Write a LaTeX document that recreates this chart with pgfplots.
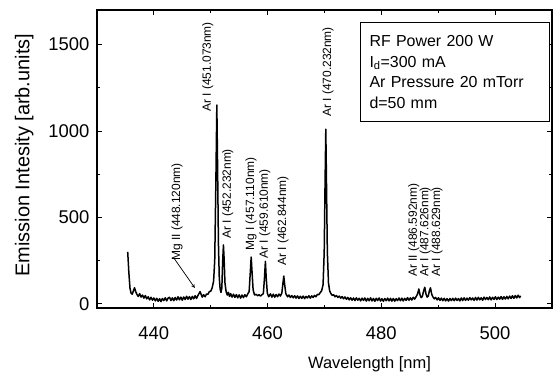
\documentclass[border=0pt]{standalone}
\usepackage{fontspec}
\setmainfont{Liberation Sans}
\usepackage{pgfplots}
\pgfplotsset{compat=1.18}
\tikzset{lab/.style={rotate=90, anchor=west, inner sep=1bp, font=\fontsize{12}{14}\selectfont}}
\begin{document}
\begin{tikzpicture}
\begin{axis}[
  scale only axis, width=455bp, height=298bp,
  xmin=430, xmax=510, ymin=-25, ymax=1700,
  xtick={440,460,480,500}, minor xtick={450,470,490},
  ytick={0,500,1000,1500}, minor ytick={250,750,1250},
  major tick length=5bp, minor tick length=3bp,
  tick style={black, line width=0.8bp},
  axis line style={line width=1.1bp},
  ticklabel style={font=\fontsize{18.5}{21}\selectfont},
  /pgf/number format/assume math mode=true,
  /pgf/number format/1000 sep={},
  xticklabel style={yshift=-15bp},
  yticklabel style={xshift=-4bp},
  xlabel={Wavelength [nm]}, ylabel={Emission Intesity [arb.units]},
  xlabel style={at={(axis description cs:0.599,-0.188)}, anchor=center, font=\fontsize{16.5}{19}\selectfont},
  ylabel style={at={(axis description cs:-0.160,0.513)}, anchor=center, font=\fontsize{20}{23}\selectfont},
]
\addplot[black, line width=1.5bp, line join=round] table {
x y
435.4 300
435.6 180
435.8 90
436.0 60
436.2 55
436.4 75
436.6 92
436.8 70
437.0 55
437.25 42
437.5 58
437.75 38
438.0 50
438.25 32
438.5 47
438.75 28
439.0 40
439.25 22
439.5 37
439.75 20
440.0 33
440.25 16
440.5 31
440.75 14
441.0 29
441.25 12
441.5 30
441.75 18
442.0 34
442.25 16
442.5 32
442.75 37
443.0 18
443.25 34
443.5 17
443.75 36
444.0 21
444.25 40
444.5 22
444.75 38
445.0 20
445.25 39
445.5 24
445.75 43
446.0 26
446.25 41
446.5 24
446.75 42
447.0 28
447.25 46
447.5 30
447.75 48
448.0 62
448.12 70
448.3 55
448.5 38
448.75 52
449.0 40
449.25 56
449.5 54
449.75 70
450.0 72
450.25 92
450.5 130
450.7 250
450.9 700
451.07 1150
451.2 800
451.35 350
451.5 150
451.65 85
451.8 65
451.95 90
452.1 250
452.23 340
452.35 260
452.5 120
452.7 70
452.9 50
453.1 66
453.3 42
453.5 58
453.75 38
454.0 55
454.25 36
454.5 53
454.75 34
455.0 51
455.25 32
455.5 50
455.75 35
456.0 52
456.25 40
456.5 56
456.75 70
456.95 180
457.11 270
457.25 190
457.45 80
457.7 50
458.0 54
458.25 46
458.5 52
458.75 44
459.0 52
459.25 58
459.45 150
459.61 245
459.75 150
459.95 60
460.2 40
460.5 57
460.75 38
461.0 55
461.25 37
461.5 53
461.75 40
462.0 56
462.25 44
462.5 62
462.7 120
462.84 160
463.0 110
463.2 58
463.5 40
463.75 50
464.0 36
464.25 47
464.5 34
464.75 46
465.0 32
465.25 45
465.5 30
465.75 43
466.0 31
466.25 44
466.5 29
466.75 42
467.0 33
467.25 46
467.5 32
467.75 45
468.0 36
468.25 48
468.5 40
468.75 54
469.0 52
469.25 64
469.5 75
469.75 110
469.95 300
470.1 700
470.23 1010
470.35 700
470.5 300
470.7 120
470.9 75
471.1 60
471.35 48
471.6 52
471.85 40
472.1 47
472.35 36
472.6 44
472.85 32
473.1 41
473.35 28
473.6 39
473.85 26
474.1 36
474.35 22
474.6 34
474.85 20
475.1 33
475.35 18
475.6 34
475.85 20
476.1 31
476.35 16
476.6 32
476.85 19
477.1 33
477.35 15
477.6 31
477.85 17
478.1 34
478.35 16
478.6 30
478.85 14
479.1 31
479.35 18
479.6 33
479.85 15
480.1 29
480.35 14
480.6 30
480.85 17
481.1 32
481.35 16
481.6 31
481.85 15
482.1 30
482.35 14
482.6 29
482.85 18
483.1 33
483.35 17
483.6 32
483.85 16
484.1 31
484.35 19
484.6 35
484.85 20
485.1 34
485.35 21
485.6 37
485.85 26
486.1 40
486.35 55
486.59 85
486.8 50
487.0 35
487.2 42
487.4 70
487.63 95
487.85 55
488.05 38
488.25 45
488.45 75
488.63 92
488.85 55
489.05 40
489.3 28
489.55 36
489.8 22
490.05 34
490.3 19
490.55 32
490.8 17
491.05 31
491.3 16
491.55 29
491.8 15
492.05 30
492.3 18
492.55 31
492.8 17
493.05 32
493.3 19
493.55 30
493.8 16
494.05 33
494.3 18
494.55 34
494.8 19
495.05 32
495.3 20
495.55 35
495.8 22
496.05 33
496.3 19
496.55 36
496.8 21
497.05 37
497.3 22
497.55 34
497.8 20
498.05 38
498.3 24
498.55 36
498.8 23
499.05 39
499.3 22
499.55 37
499.8 25
500.05 40
500.3 24
500.55 38
500.8 26
501.05 41
501.3 25
501.55 40
501.8 27
502.05 42
502.3 28
502.55 44
502.8 30
503.05 46
503.3 31
503.55 47
503.8 33
504.05 49
504.3 35
504.5 45
};
\node[lab] at (axis cs:444.07,241) {Mg II (448.120nm)};
\draw[->, >=stealth, line width=0.7bp] (axis cs:443.5,265) -- (axis cs:447.2,91);
\node[lab] at (axis cs:449.5,1104) {Ar I (451.073nm)};
\node[lab] at (axis cs:453.0,369) {Ar I (452.232nm)};
\node[lab] at (axis cs:457.1,299) {Mg I (457.110nm)};
\node[lab] at (axis cs:459.5,253) {Ar I (459.610nm)};
\node[lab] at (axis cs:462.7,212) {Ar I (462.844nm)};
\node[lab] at (axis cs:470.6,1075) {Ar I (470.232nm)};
\node[lab] at (axis cs:485.7,149) {Ar II (486.592nm)};
\node[lab] at (axis cs:487.7,149) {Ar I (487.626nm)};
\node[lab] at (axis cs:489.8,149) {Ar I (488.629nm)};
\node[draw, line width=1.1bp, anchor=north west, minimum width=189bp, minimum height=99bp,
      text width=171bp, inner xsep=9bp, align=left, fill=white,
      font=\fontsize{16}{20.7}\selectfont] at (rel axis cs:0.578,0.96)
  {RF Power 200 W\\ I\textsubscript{d}=300 mA\\ Ar Pressure 20 mTorr\\ d=50 mm};
\end{axis}
\pgfresetboundingbox
\path[use as bounding box] ([shift={(-97bp,-66bp)}]current axis.south west) rectangle ([shift={(6bp,10bp)}]current axis.north east);
\end{tikzpicture}
\end{document}
